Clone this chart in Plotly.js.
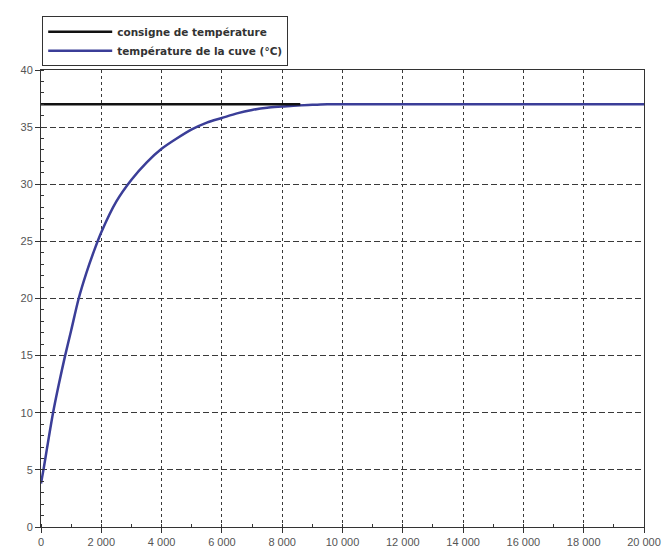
<!DOCTYPE html>
<html>
<head>
<meta charset="utf-8">
<script src="https://cdn.plot.ly/plotly-3.0.1.min.js"></script>
<style>html,body{margin:0;padding:0;background:#fff;}#chart{width:669px;height:555px;}</style>
</head>
<body>
<div id="chart"></div>
<script>
// Data
const timeS = [0, 100, 200, 400, 600, 800, 1000, 1250, 1500, 1750, 2000, 2500, 3000, 3500, 4000, 4500, 5000, 5500, 6000, 6500, 7000, 7500, 8000, 8500, 9000, 9500, 10000, 12000, 14000, 16000, 18000, 20000];
const tankTemp = [3.8, 5.3, 6.9, 10.0, 12.6, 15.0, 17.2, 20.0, 22.2, 24.1, 25.8, 28.5, 30.4, 31.9, 33.1, 34.0, 34.8, 35.4, 35.8, 36.2, 36.5, 36.7, 36.8, 36.9, 36.95, 37.0, 37.0, 37.0, 37.0, 37.0, 37.0, 37.0];
const setpointX = [0, 8600];
const setpointY = [37, 37];
const xTickVals = [0, 2000, 4000, 6000, 8000, 10000, 12000, 14000, 16000, 18000, 20000];
const xTickText = ["0", "2 000", "4 000", "6 000", "8 000", "10 000", "12 000", "14 000", "16 000", "18 000", "20 000"];
const yTickVals = [0, 5, 10, 15, 20, 25, 30, 35, 40];
const seriesNames = ["consigne de température", "température de la cuve (°C)"];

const traces = [
  {x: timeS, y: tankTemp, type: 'scatter', mode: 'lines', name: seriesNames[1], legendrank: 2,
   line: {color: '#3b3e98', width: 2.5, shape: 'spline', smoothing: 0.8}},
  {x: setpointX, y: setpointY, type: 'scatter', mode: 'lines', name: seriesNames[0], legendrank: 1,
   line: {color: '#111111', width: 2.5}}
];

const axisCommon = {
  showline: true, linecolor: '#333', linewidth: 1, mirror: true,
  showgrid: true, gridcolor: '#3a3a3a', gridwidth: 1,
  zeroline: false, ticks: 'outside', ticklen: 5, tickcolor: '#333',
  tickfont: {family: 'Liberation Sans, Arial, sans-serif', size: 11, color: '#555'}
};

const layout = {
  width: 669, height: 555,
  margin: {l: 41, r: 25, t: 70, b: 28},
  paper_bgcolor: '#ffffff', plot_bgcolor: '#ffffff',
  showlegend: true,
  legend: {x: 0.002, xanchor: 'left', y: 1.008, yanchor: 'bottom', bgcolor: '#ffffff',
           bordercolor: '#333', borderwidth: 1, itemwidth: 64,
           font: {family: 'DejaVu Sans, sans-serif', size: 10.5, color: '#333', weight: 'bold'},
           tracegroupgap: 0},
  xaxis: Object.assign({}, axisCommon, {
    range: [0, 20000], tickvals: xTickVals, ticktext: xTickText, griddash: '3px,3px',
    minor: {dtick: 1000, ticks: 'inside', ticklen: 3, tickcolor: '#333', showgrid: false}
  }),
  yaxis: Object.assign({}, axisCommon, {
    range: [0, 40], tickvals: yTickVals, griddash: '6px,3px',
    minor: {dtick: 1, ticks: 'inside', ticklen: 3, tickcolor: '#333', showgrid: false}
  })
};

Plotly.newPlot('chart', traces, layout, {displayModeBar: false, staticPlot: true});
</script>
</body>
</html>
